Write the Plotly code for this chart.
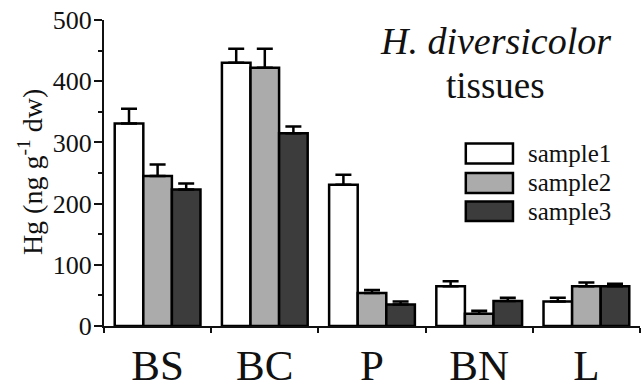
import plotly.graph_objects as go

categories = ["BS", "BC", "P", "BN", "L"]
series_names = ["sample1", "sample2", "sample3"]
sample1 = [331, 430, 231, 65, 40]
sample2 = [245, 422, 54, 20, 65]
sample3 = [223, 315, 35, 41, 65]
err1 = [24, 23, 16, 8, 6]
err2 = [19, 31, 5, 5, 6]
err3 = [10, 11, 5, 5, 4]
y_ticks = [0, 100, 200, 300, 400, 500]

fills = ["#ffffff", "#ababab", "#3c3c3c"]
FONT = "Liberation Serif"

fig = go.Figure()
for name, vals, errs, col in zip(series_names, [sample1, sample2, sample3],
                                 [err1, err2, err3], fills):
    fig.add_trace(go.Bar(
        x=categories, y=vals, name=name,
        marker=dict(color=col, line=dict(color="#000000", width=2.5)),
        error_y=dict(type="data", array=errs, arrayminus=[0] * len(errs),
                     symmetric=False, color="#000000", thickness=2.5, width=8),
        showlegend=False,
    ))

fig.update_layout(
    width=641, height=390,
    margin=dict(l=104, r=1, t=20, b=46),
    paper_bgcolor="white", plot_bgcolor="white",
    barmode="group", bargap=0.2, bargroupgap=0,
    font=dict(family=FONT, color="#111111"),
)
fig.update_xaxes(
    type="category", range=[-0.5, 4.5],
    showline=True, linecolor="#111111", linewidth=2,
    ticks="outside", tickson="boundaries", ticklen=5, tickwidth=2, tickcolor="#111111",
    tickfont=dict(size=43, family=FONT, color="#111111"),
    showgrid=False, zeroline=False,
)
fig.update_yaxes(
    range=[0, 500], tickvals=y_ticks, ticktext=[str(v) for v in y_ticks],
    showline=True, linecolor="#111111", linewidth=2,
    ticks="outside", ticklen=8, tickwidth=2, tickcolor="#111111",
    minor=dict(dtick=50, ticks="outside", ticklen=4, tickwidth=2, tickcolor="#111111"),
    tickfont=dict(size=26, family=FONT, color="#111111"),
    ticklabelstandoff=-3,
    showgrid=False, zeroline=False,
)

# Y-axis title
fig.add_annotation(text="Hg (ng g<sup>-1</sup> dw)", xref="paper", yref="paper",
                   x=-0.138, y=0.503, textangle=-90, showarrow=False,
                   font=dict(size=28, family=FONT, color="#111111"),
                   xanchor="center", yanchor="middle")
# Title text
fig.add_annotation(text="<i>H. diversicolor</i>", xref="paper", yref="paper",
                   x=0.731, y=0.932, showarrow=False,
                   font=dict(size=38, family=FONT, color="#111111"),
                   xanchor="center", yanchor="middle")
fig.add_annotation(text="tissues", xref="paper", yref="paper",
                   x=0.731, y=0.787, showarrow=False,
                   font=dict(size=37, family=FONT, color="#111111"),
                   xanchor="center", yanchor="middle")

# Custom legend (boxes + labels)
rows = [(0.531, 0.596), (0.435, 0.500), (0.343, 0.407)]
for (y0, y1), col, name in zip(rows, fills, series_names):
    fig.add_shape(type="rect", xref="paper", yref="paper",
                  x0=0.675, x1=0.763, y0=y0, y1=y1,
                  fillcolor=col, line=dict(color="#000000", width=2.5))
    fig.add_annotation(text=name, xref="paper", yref="paper",
                       x=0.787, y=(y0 + y1) / 2, showarrow=False,
                       font=dict(size=25, family=FONT, color="#111111"),
                       xanchor="left", yanchor="middle")

fig.write_html("out.html")
